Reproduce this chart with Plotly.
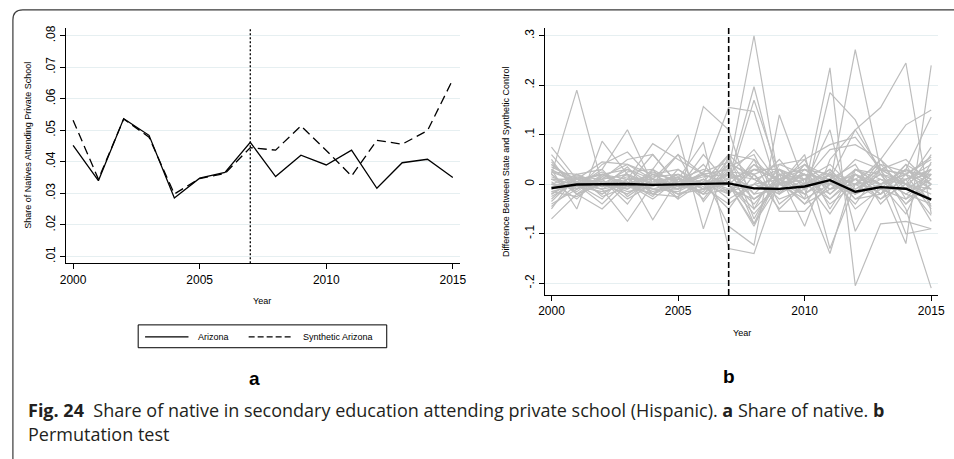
import plotly.graph_objects as go

W, H = 954, 459

def px(x):
    return x / W

def py(y):
    return 1 - y / H

# ---------------- DATA ----------------
years = list(range(2000, 2016))

arizona = [0.0452, 0.0340, 0.0537, 0.0484, 0.0285, 0.0348, 0.0366, 0.0462,
           0.0353, 0.0421, 0.0390, 0.0437, 0.0316, 0.0397, 0.0408, 0.0350]
synthetic_arizona = [0.0532, 0.0345, 0.0536, 0.0478, 0.0298, 0.0347, 0.0363, 0.0445,
                     0.0437, 0.0514, 0.0436, 0.0355, 0.0468, 0.0456, 0.0499, 0.0661]

left_yticks = [0.01, 0.02, 0.03, 0.04, 0.05, 0.06, 0.07, 0.08]
left_yticktext = [".01", ".02", ".03", ".04", ".05", ".06", ".07", ".08"]
right_yticks = [-0.2, -0.1, 0.0, 0.1, 0.2, 0.3]
right_yticktext = ["-.2", "-.1", "0", ".1", ".2", ".3"]
xticks = [2000, 2005, 2010, 2015]

# gap between Arizona and its synthetic control (thick black line)
arizona_gap = [a - s for a, s in zip(arizona, synthetic_arizona)]

# placebo gaps (grey lines)
placebo_gaps = [
    [0.020, 0.190, 0.000, 0.010, -0.010, 0.005, 0.000, 0.020, -0.030, 0.010, 0.020, -0.010, 0.030, 0.000, 0.010, 0.020],
    [0.075, 0.010, 0.020, 0.000, 0.010, -0.010, 0.020, 0.030, 0.300, 0.000, 0.020, 0.010, -0.020, 0.010, 0.000, 0.030],
    [-0.070, -0.020, 0.000, 0.030, 0.010, -0.005, 0.010, -0.020, 0.030, 0.010, -0.010, 0.235, -0.205, -0.080, -0.075, -0.090],
    [0.030, -0.050, 0.087, 0.020, -0.020, 0.010, -0.010, 0.010, 0.197, 0.000, -0.020, 0.020, 0.010, -0.030, 0.020, 0.000],
    [-0.010, 0.020, 0.030, 0.110, 0.000, 0.020, -0.010, 0.000, -0.080, 0.030, 0.010, 0.000, 0.272, 0.030, 0.020, -0.010],
    [0.010, 0.000, -0.040, 0.010, 0.082, 0.050, 0.020, 0.155, 0.147, -0.020, 0.040, 0.000, 0.010, -0.020, 0.030, 0.010],
    [-0.020, 0.010, 0.020, -0.010, 0.030, 0.100, -0.090, 0.060, 0.010, 0.030, -0.030, 0.185, 0.130, 0.020, -0.040, 0.000],
    [0.000, -0.010, 0.040, 0.065, 0.010, -0.030, 0.157, 0.110, -0.050, 0.000, 0.020, 0.010, 0.110, 0.155, 0.245, -0.060],
    [0.040, 0.000, -0.010, -0.075, 0.000, 0.060, 0.020, 0.000, 0.170, 0.020, -0.010, -0.140, 0.030, 0.000, -0.120, 0.240],
    [-0.045, 0.000, 0.010, 0.020, -0.072, 0.010, 0.085, -0.130, -0.140, 0.010, 0.030, 0.020, -0.020, 0.050, 0.120, 0.150],
    [0.020, -0.020, -0.050, 0.000, 0.060, 0.000, 0.020, -0.085, -0.123, 0.140, 0.000, 0.110, -0.095, 0.000, 0.030, 0.136],
    [0.010, 0.010, 0.045, 0.040, 0.010, -0.020, -0.010, 0.060, 0.050, -0.055, -0.055, 0.000, 0.050, 0.030, -0.100, -0.090],
    [-0.030, 0.015, 0.000, -0.020, 0.020, 0.030, 0.000, 0.040, -0.080, 0.000, 0.060, -0.130, 0.000, 0.030, -0.050, -0.210],
    [0.005, -0.030, 0.020, 0.030, 0.000, -0.010, 0.060, 0.000, -0.085, 0.020, -0.085, 0.050, 0.110, 0.030, 0.000, 0.075],
    [-0.015, 0.000, 0.010, 0.050, 0.060, 0.000, -0.020, 0.020, 0.070, 0.000, 0.010, 0.070, 0.080, 0.050, 0.000, -0.063],
    [0.025, 0.005, -0.010, 0.000, -0.030, 0.010, 0.000, -0.050, 0.020, 0.040, 0.050, 0.080, 0.095, 0.030, 0.020, 0.050],
    [-0.005, 0.010, -0.020, 0.010, 0.010, 0.060, -0.035, 0.030, -0.020, 0.030, 0.000, -0.030, 0.020, -0.020, 0.010, -0.075],
    [0.030, 0.000, -0.010, 0.020, 0.000, 0.010, 0.000, 0.020, 0.010, -0.020, 0.030, 0.000, -0.010, 0.020, 0.010, 0.040],
    [-0.020, 0.010, 0.000, -0.010, 0.020, -0.010, 0.010, -0.010, 0.030, 0.010, -0.020, 0.020, 0.000, -0.030, 0.000, -0.020],
    [0.010, -0.015, 0.020, 0.000, -0.020, 0.000, 0.020, 0.030, -0.030, 0.000, 0.010, -0.020, 0.030, 0.010, -0.020, 0.010],
    [0.040, 0.005, -0.020, 0.010, 0.015, 0.020, -0.010, 0.000, 0.040, -0.010, 0.000, 0.020, -0.030, 0.000, 0.030, -0.010],
    [-0.040, -0.010, 0.010, 0.020, 0.000, -0.020, 0.000, 0.010, -0.040, 0.020, 0.030, -0.010, 0.010, 0.040, -0.010, 0.020],
    [0.000, 0.020, 0.000, -0.020, 0.010, 0.010, -0.020, 0.040, 0.020, -0.030, -0.010, 0.030, -0.020, 0.000, 0.020, 0.055],
    [0.020, -0.020, 0.015, 0.000, -0.010, -0.015, 0.010, -0.030, 0.000, 0.010, 0.040, -0.020, 0.020, -0.010, -0.030, 0.000],
    [-0.010, 0.000, -0.030, 0.025, 0.030, 0.000, 0.015, 0.020, -0.010, 0.020, 0.000, 0.010, -0.040, 0.030, 0.000, -0.030],
    [0.035, 0.010, 0.005, -0.015, -0.005, 0.020, 0.000, -0.020, 0.050, 0.000, -0.030, 0.000, 0.020, -0.020, 0.040, 0.010],
    [-0.025, 0.005, 0.020, 0.010, -0.015, 0.000, -0.015, 0.050, -0.020, -0.010, 0.020, -0.040, 0.000, 0.010, -0.020, -0.040],
    [0.015, -0.005, -0.015, 0.000, 0.020, 0.010, 0.030, 0.010, 0.030, 0.030, -0.020, 0.010, 0.040, -0.040, 0.010, 0.030],
    [-0.035, 0.015, 0.010, -0.030, 0.000, 0.020, -0.005, -0.040, 0.000, -0.020, 0.010, 0.040, -0.010, 0.020, -0.040, 0.020],
    [0.050, -0.020, 0.000, 0.015, -0.010, -0.010, 0.005, 0.000, -0.050, 0.040, 0.020, -0.030, 0.010, 0.000, 0.020, -0.050],
    [0.000, 0.000, 0.025, -0.005, 0.005, 0.015, -0.030, 0.035, 0.060, -0.040, 0.000, 0.000, -0.020, 0.030, 0.050, 0.000],
    [0.025, 0.020, -0.005, 0.035, -0.020, -0.025, 0.010, -0.015, 0.000, 0.050, -0.010, 0.020, 0.000, -0.010, -0.010, 0.060],
    [-0.015, -0.025, 0.005, -0.010, 0.025, 0.005, 0.020, 0.000, -0.060, 0.000, 0.050, -0.050, 0.030, 0.020, 0.000, -0.010],
    [0.010, 0.010, -0.005, 0.005, -0.025, 0.030, -0.010, 0.025, 0.020, -0.050, 0.000, 0.030, -0.030, -0.020, 0.030, 0.000],
    [-0.005, -0.005, 0.030, -0.025, 0.010, -0.005, 0.040, -0.020, 0.040, 0.010, -0.040, -0.010, 0.000, 0.050, -0.030, 0.030],
    [0.045, -0.010, 0.015, 0.040, 0.020, -0.005, 0.025, 0.045, 0.010, -0.015, 0.040, 0.015, -0.020, 0.040, 0.025, 0.020],
    [-0.050, 0.020, -0.025, -0.005, -0.020, 0.015, -0.020, -0.010, -0.030, 0.005, -0.040, 0.025, -0.050, -0.010, 0.040, -0.045],
    [0.060, 0.000, 0.010, -0.040, 0.030, -0.030, 0.005, 0.060, -0.070, 0.020, 0.010, -0.060, 0.020, 0.000, -0.060, 0.045],
]

treatment_year = 2007

# ---------------- FIGURE ----------------
AX = "Liberation Sans, Arial, sans-serif"
fig = go.Figure()

# left panel
fig.add_trace(go.Scatter(x=years, y=arizona, mode="lines", name="Arizona",
                         line=dict(color="black", width=1.3), xaxis="x", yaxis="y",
                         showlegend=False))
fig.add_trace(go.Scatter(x=years, y=synthetic_arizona, mode="lines", name="Synthetic Arizona",
                         line=dict(color="black", width=1.3, dash="9px,5px"), xaxis="x", yaxis="y",
                         showlegend=False))

# right panel
for g in placebo_gaps:
    fig.add_trace(go.Scatter(x=years, y=g, mode="lines", line=dict(color="#bdbdbd", width=1.2),
                             xaxis="x2", yaxis="y2", showlegend=False, hoverinfo="skip"))
fig.add_trace(go.Scatter(x=years, y=arizona_gap, mode="lines", line=dict(color="black", width=2.4),
                         xaxis="x2", yaxis="y2", showlegend=False))

common_x = dict(range=[1999.727, 2015.273], tickvals=xticks, ticks="outside", ticklen=5,
                tickcolor="black", showline=True, linecolor="black", linewidth=1,
                showgrid=False, zeroline=False, tickfont=dict(family=AX, size=12, color="black"))
common_y = dict(ticks="outside", ticklen=5, tickcolor="black", showline=True, linecolor="black",
                linewidth=1, showgrid=True, gridcolor="#e6eff1", gridwidth=1, zeroline=False,
                tickangle=-90, tickfont=dict(family=AX, size=12, color="black"))

fig.update_layout(
    width=W, height=H,
    margin=dict(l=0, r=0, t=0, b=0),
    paper_bgcolor="white", plot_bgcolor="white",
    xaxis=dict(domain=[px(61), px(460)], anchor="y", **common_x),
    yaxis=dict(domain=[py(262), py(25)], anchor="x", range=[0.0078, 0.0825],
               tickvals=left_yticks, ticktext=left_yticktext, **common_y),
    xaxis2=dict(domain=[px(546), px(945)], anchor="y2", **common_x),
    yaxis2=dict(domain=[py(294), py(25)], anchor="x2", range=[-0.224, 0.316],
                tickvals=right_yticks, ticktext=right_yticktext, **common_y),
)

shapes = []
# treatment lines
shapes.append(dict(type="line", xref="x", yref="y domain", x0=treatment_year, x1=treatment_year,
                   y0=0, y1=1, line=dict(color="black", width=1.3, dash="2px,2px")))
shapes.append(dict(type="line", xref="x2", yref="y2 domain", x0=treatment_year, x1=treatment_year,
                   y0=0, y1=1, line=dict(color="black", width=1.6, dash="6px,3px")))

# legend box
shapes.append(dict(type="rect", xref="paper", yref="paper", x0=px(134), x1=px(386),
                   y0=py(347), y1=py(324), line=dict(color="black", width=1)))
shapes.append(dict(type="line", xref="paper", yref="paper", x0=px(141), x1=px(185),
                   y0=py(336), y1=py(336), line=dict(color="black", width=1.2)))
shapes.append(dict(type="line", xref="paper", yref="paper", x0=px(246), x1=px(290),
                   y0=py(336), y1=py(336), line=dict(color="black", width=1.2, dash="6px,3px")))

# outer rounded border
r = 10
path = (f"M {px(7)},{py(470)} L {px(7)},{py(7 + r)} "
        f"Q {px(7)},{py(7)} {px(7 + r)},{py(7)} L {px(970)},{py(7)}")
shapes.append(dict(type="path", xref="paper", yref="paper", path=path,
                   line=dict(color="#3a3a3a", width=1.2)))
fig.update_layout(shapes=shapes)

ann = []
def txt(x, y, t, size, **kw):
    d = dict(xref="paper", yref="paper", x=px(x), y=py(y), text=t, showarrow=False,
             xanchor=kw.pop("xanchor", "center"), yanchor="middle",
             font=dict(family=kw.pop("family", AX), size=size, color=kw.pop("color", "black")))
    d.update(kw)
    ann.append(d)

txt(22, 143, "Share of Natives Attending Private School", 9, textangle=-90)
txt(507, 160, "Difference Between State and Synthetic Control", 9, textangle=-90)
txt(260, 300, "Year", 9)
txt(746, 332, "Year", 9)
txt(193, 336, "Arizona", 9, xanchor="left")
txt(299, 336, "Synthetic Arizona", 9, xanchor="left")
txt(252, 378, "<b>a</b>", 19)
txt(733, 376, "<b>b</b>", 19)
CAP = "Open Sans, Noto Sans, sans-serif"
txt(20, 410, "<b>Fig. 24</b>&nbsp; Share of native in secondary education attending private school "
             "(Hispanic). <b>a</b> Share of native. <b>b</b>", 18, xanchor="left",
    family=CAP, color="#231f20")
txt(20, 434, "Permutation test", 18, xanchor="left", family=CAP, color="#231f20")
fig.update_layout(annotations=ann)

fig.write_html("out.html", config={"displayModeBar": False},
               post_script="document.body.style.margin='0px';")
